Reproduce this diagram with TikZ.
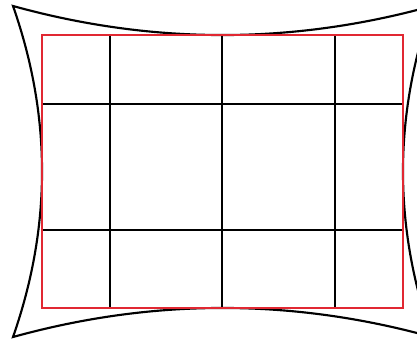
\documentclass[tikz,border=0pt]{standalone}
\usepackage{xcolor}
\usepackage{tikz}

\definecolor{framered}{RGB}{225,40,50}

\begin{document}
\begin{tikzpicture}[x=0.75pt,y=-0.75pt,line width=1.6pt]
  \useasboundingbox (0,0) rectangle (417,339);
  \clip (0,0) rectangle (417,339);
  % distorted outline
  \coordinate (tl) at (13,6);
  \coordinate (tr) at (432,6);
  \coordinate (br) at (432,337);
  \coordinate (bl) at (13,337);
  \draw[black, line join=miter] (tl) .. controls (152.7,44.7) and (292.3,44.7) .. (tr)
    .. controls (393.3,116.3) and (393.3,226.7) .. (br)
    .. controls (292.3,298.3) and (152.7,298.3) .. (bl)
    .. controls (51.7,226.7) and (51.7,116.3) .. cycle;
  % grid
  \draw[black] (110,35) -- (110,308);
  \draw[black] (222,35) -- (222,308);
  \draw[black] (335,35) -- (335,308);
  \draw[black] (42,104) -- (403,104);
  \draw[black] (42,230) -- (403,230);
  % frame
  \draw[framered] (42,35) rectangle (403,308);
\end{tikzpicture}
\end{document}
